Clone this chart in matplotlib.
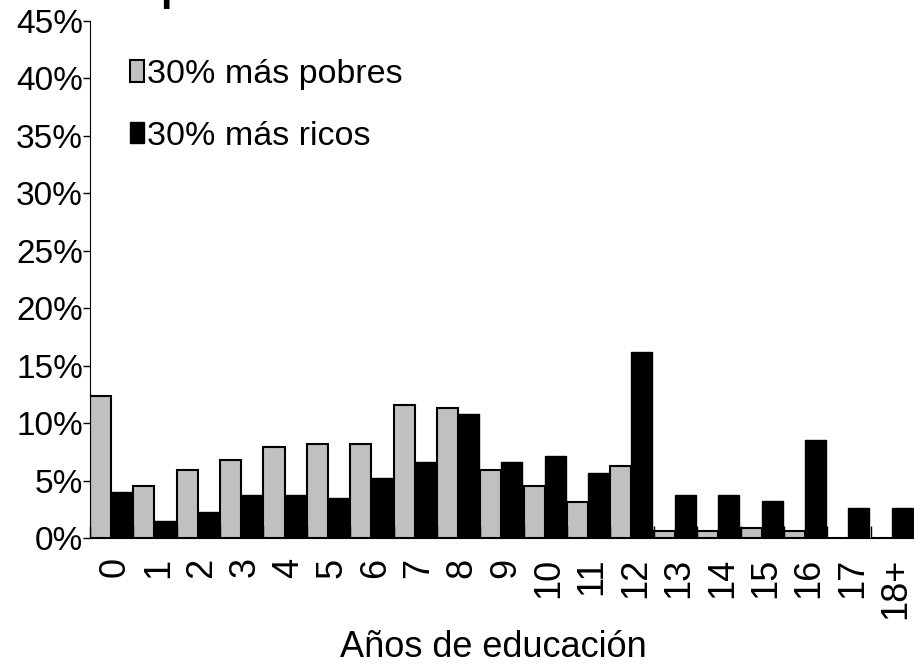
import numpy as np
import matplotlib
matplotlib.use("Agg")
import matplotlib.pyplot as plt
from matplotlib.patches import Patch

plt.rcParams['font.family'] = ['Liberation Sans', 'DejaVu Sans']

# years of schooling
categories = ['0', '1', '2', '3', '4', '5', '6', '7', '8', '9', '10',
              '11', '12', '13', '14', '15', '16', '17', '18+']
# share of people (%) per group
pobres = [12.4, 4.5, 5.9, 6.8, 7.9, 8.2, 8.2, 11.6, 11.3, 5.9,
          4.5, 3.1, 6.3, 0.6, 0.6, 0.85, 0.6, 0.0, 0.0]
ricos = [4.0, 1.45, 2.3, 3.7, 3.7, 3.45, 5.2, 6.6, 10.8, 6.6,
         7.1, 5.7, 16.2, 3.7, 3.7, 3.2, 8.55, 2.6, 2.6]
yticks = [0, 5, 10, 15, 20, 25, 30, 35, 40, 45]

fig = plt.figure(figsize=(9.14, 6.64), dpi=100)
ax = fig.add_axes([90 / 914, 1 - 538 / 664, 1 - 90 / 914, (538 - 21) / 664])

x = np.arange(len(categories))
w = 0.485
ax.bar(x, pobres, width=w, align='edge', color='#c0c0c0',
       edgecolor='black', linewidth=1.5, label='30% más pobres')
ax.bar(x + w, ricos, width=w, align='edge', color='black',
       edgecolor='black', linewidth=1.0, label='30% más ricos')

ax.set_xlim(0, len(categories))
ax.set_ylim(0, 45)

# boundaries get the small inward ticks, labels sit near the middle
ax.set_xticks(np.arange(len(categories) + 1))
ax.set_xticklabels([])
ax.tick_params(axis='x', which='major', direction='in', length=9, width=1)
ax.set_xticks(x + 0.58, minor=True)
ax.set_xticklabels(categories, minor=True, rotation=90, fontsize=26)
ax.tick_params(axis='x', which='minor', length=0, pad=14)

ax.set_yticks(yticks)
ax.set_yticklabels([f'{v}%' for v in yticks], fontsize=24)
ax.tick_params(axis='y', direction='out', length=5, width=1, pad=0)

ax.spines['top'].set_visible(False)
ax.spines['right'].set_visible(False)

ax.set_xlabel('Años de educación', fontsize=26, labelpad=8)
ax.xaxis.label.set_x(0.489)

handles = [Patch(facecolor='#c0c0c0', edgecolor='black', linewidth=1.5),
           Patch(facecolor='black', edgecolor='black')]
ax.legend(handles, ['30% más pobres', '30% más ricos'], loc='upper left',
          bbox_to_anchor=(40 / 824, 1 - 38 / 517), frameon=False, fontsize=24.5,
          handlelength=0.4, handleheight=0.6, handletextpad=0.1,
          labelspacing=0.9, borderpad=0, borderaxespad=0)

# title is cut off by the top edge, only its descender shows
fig.text(0.175, 1.0, 'p', fontsize=30, fontweight='bold', va='baseline')

fig.savefig('out.png', dpi=100)
